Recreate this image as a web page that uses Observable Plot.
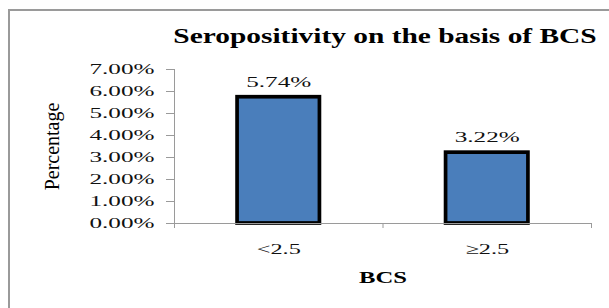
<!DOCTYPE html>
<html><head><meta charset="utf-8">
<script src="https://cdn.jsdelivr.net/npm/d3@7"></script>
<script src="https://cdn.jsdelivr.net/npm/@observablehq/plot@0.6"></script>
<style>
html,body{margin:0;padding:0;background:#fff;overflow:hidden;}
#wrap{position:relative;width:609px;height:308px;overflow:hidden;background:#fff;}
#frame{position:absolute;left:8px;top:9px;width:660px;height:360px;border:2px solid #9a9a9a;box-sizing:border-box;}
#title{position:absolute;left:385px;top:26px;line-height:20px;transform:translateX(-50%) scaleX(1.47);font-family:"Liberation Serif",serif;font-weight:bold;font-size:20px;white-space:nowrap;color:#000;}
#chart{position:absolute;left:0;top:0;}
</style></head>
<body>
<div id="wrap"><div id="frame"></div><div id="chart"></div><div id="title">Seropositivity on the basis of BCS</div></div>
<script>
const titleText = "Seropositivity on the basis of BCS";
const categories = ["<2.5", "≥2.5"];
const values = [0.0574, 0.0322];
const yTicks = [0, 0.01, 0.02, 0.03, 0.04, 0.05, 0.06, 0.07];
const yLabel = "Percentage";
const xLabel = "BCS";

document.getElementById("title").textContent = titleText;
const pct = d3.format(".2%");
const barW = 0.395;
const data = categories.map((c, i) => ({c, i, v: values[i]}));

const svg = Plot.plot({
  width: 609, height: 308,
  marginLeft: 174, marginRight: 18, marginTop: 69, marginBottom: 85,
  style: {fontFamily: "'Liberation Serif', serif", fontSize: "15px", color: "#111", background: "transparent"},
  x: {domain: [0, categories.length], axis: null},
  y: {domain: [0, 0.07], axis: null},
  marks: [
    Plot.rectY(data, {x1: d => d.i + 0.5 - barW / 2, x2: d => d.i + 0.5 + barW / 2, y1: 0, y2: "v", fill: "#4a7ebb", stroke: "#000", strokeWidth: 3.7}),
    Plot.ruleX([0], {stroke: "#9a9a9a"}),
    Plot.ruleY([0], {stroke: "#9a9a9a"}),
    Plot.axisY({ticks: yTicks, tickSize: 8, tickPadding: 12, tickFormat: pct, stroke: "#9a9a9a", fill: "#111", label: null}),
    Plot.axisX({ticks: d3.range(categories.length + 1), tickSize: 5, tickFormat: () => "", stroke: "#9a9a9a", label: null}),
    Plot.axisX({ticks: categories.map((c, i) => i + 0.5), tickSize: 0, tickPadding: 20, tickFormat: d => categories[Math.floor(d)], fill: "#111", label: null}),
    Plot.text(data, {x: d => d.i + 0.5, y: "v", text: d => pct(d.v), dy: -15.5, fill: "#111"}),
    Plot.text([yLabel], {frameAnchor: "left", textAnchor: "middle", rotate: -90, dx: -122, fontSize: 20, fill: "#000"}),
    Plot.text([xLabel], {frameAnchor: "bottom", dy: 59, fontSize: 17, fontWeight: "bold", fill: "#000"})
  ]
});

function stretchText(t, s) {
  const tr = t.getAttribute("transform");
  if (tr) {
    t.setAttribute("transform", `${tr} scale(${s},1)`);
  } else {
    const x = parseFloat(t.getAttribute("x")) || 0;
    t.setAttribute("transform", `translate(${x},0) scale(${s},1)`);
    t.removeAttribute("x");
  }
}
svg.querySelectorAll("text").forEach(t => {
  const s = t.textContent;
  if (/%$/.test(s)) stretchText(t, 1.68);
  else if (categories.includes(s)) stretchText(t, 1.62);
  else if (s === xLabel) stretchText(t, 1.45);
});
document.getElementById("chart").appendChild(svg);
</script>
</body></html>
